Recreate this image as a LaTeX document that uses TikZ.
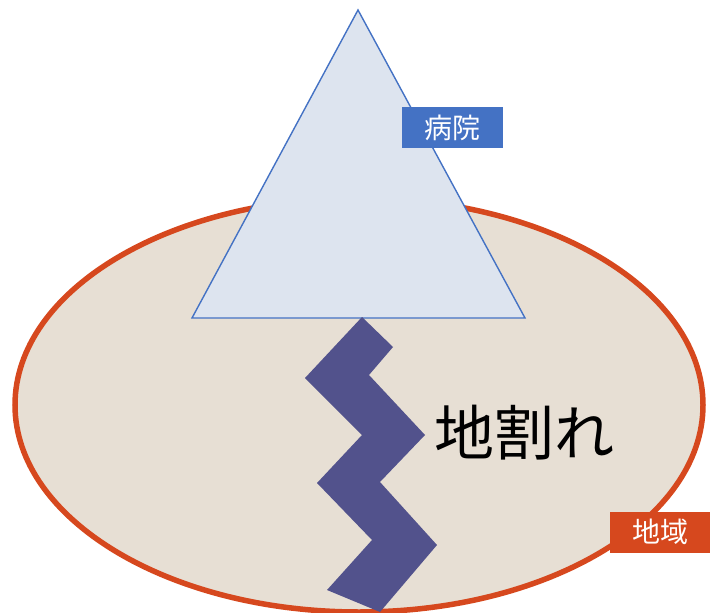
\documentclass[tikz,border=0pt]{standalone}
\usepackage{fontspec}
\setmainfont{Noto Sans CJK JP}
\usepackage{xcolor}
\usetikzlibrary{positioning}

\definecolor{regionred}{RGB}{214,72,30}
\definecolor{regionfill}{RGB}{231,223,212}
\definecolor{hospblue}{RGB}{68,114,196}
\definecolor{hospfill}{RGB}{221,228,239}
\definecolor{crackblue}{RGB}{82,82,140}

\begin{document}
\begin{tikzpicture}[
	x=1pt, y=-1pt,
	label box/.style={text=white, inner sep=0pt, minimum height=41pt, font=\fontsize{28}{28}\selectfont},
	region/.style={draw=regionred, line width=5.5pt, fill=regionfill},
	hospital/.style={draw=hospblue, line width=1.4pt, fill=hospfill, line join=miter},
	crack/.style={fill=crackblue}
	]
	
	\useasboundingbox (0,0) rectangle (710,613);
	
	% Define shapes
	\path [region] (359,405) ellipse [x radius=344, y radius=207];
	\path [hospital] (358,10) -- (525,318) -- (192,318) -- cycle;
	\path [crack] (362,317) -- (393,347) -- (369,375) -- (425,435) -- (380,482)
		-- (437,545) -- (380,612) -- (327,590) -- (372,540) -- (317,483)
		-- (362,435) -- (305,378) -- cycle;
	
	% Define labels
	\node (crackText) [anchor=west, font=\fontsize{60}{60}\selectfont] at (431,433) {地割れ};
	\node (hospital) [label box, fill=hospblue, minimum width=101pt] at (452.5,127.5) {病院};
	\node (region) [label box, fill=regionred, minimum width=100pt] at (660,532) {地域};
	
\end{tikzpicture}
\end{document}
